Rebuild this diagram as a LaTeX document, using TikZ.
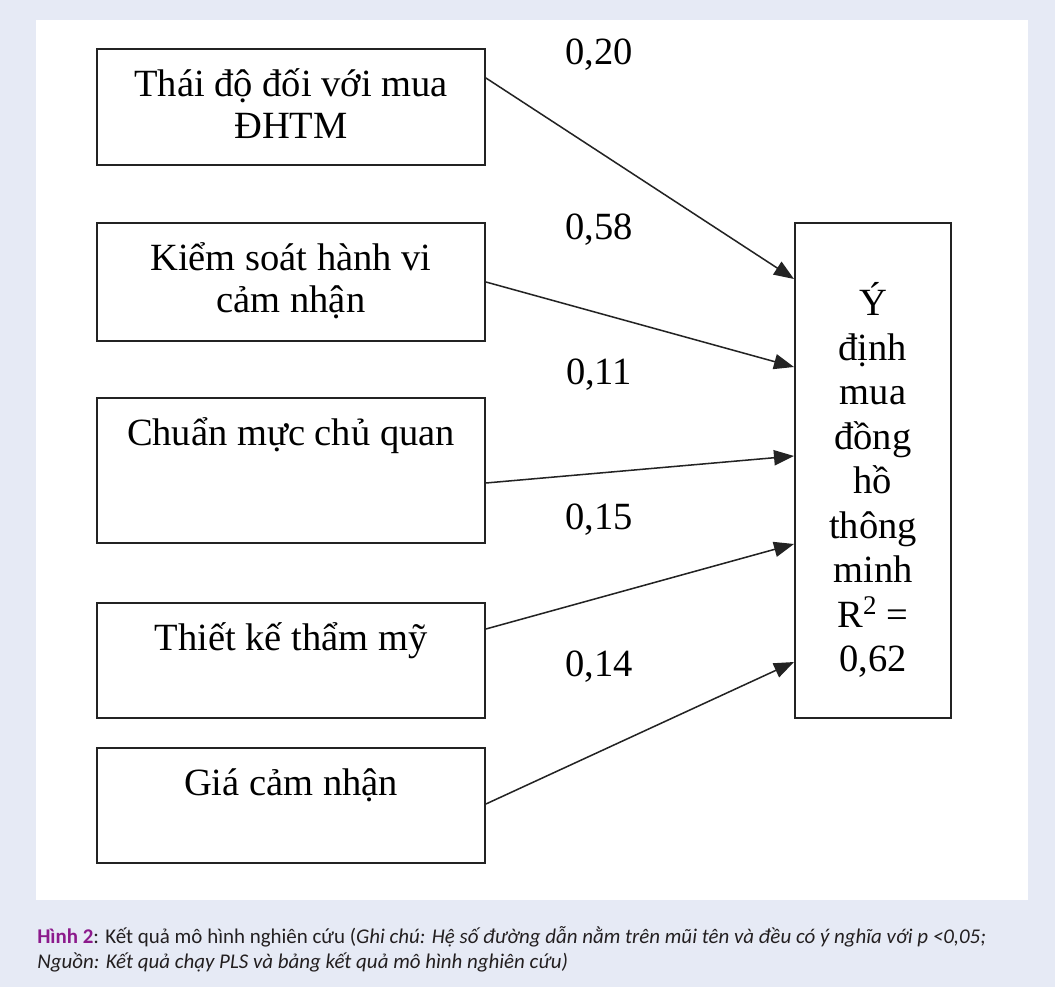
\documentclass[tikz,border=0pt]{standalone}
\usepackage{fontspec}
\setmainfont{Liberation Serif}
\newfontfamily\capfont{Carlito}
\usetikzlibrary{arrows.meta}

\definecolor{pagebg}{RGB}{230,234,245}
\definecolor{boxline}{RGB}{35,35,35}
\definecolor{figpurple}{RGB}{140,26,140}
\definecolor{captext}{RGB}{35,31,32}

% box text: height, width, strut to first baseline, text
\newcommand{\boxtext}[4]{\parbox[c][#1][t]{#2}{\centering\rule{0pt}{#3}#4}}

\tikzset{factor/.style={draw=boxline,line width=0.048cm,inner sep=0pt,anchor=north west,font=\fontsize{27.4pt}{29.9pt}\selectfont},
outcome/.style={draw=boxline,line width=0.048cm,inner sep=0pt,anchor=north west,font=\fontsize{27.4pt}{31.65pt}\selectfont},
weight/.style={font=\fontsize{27.4pt}{29.9pt}\selectfont,anchor=base,inner sep=0pt},
path coef/.style={draw=boxline,line width=0.038cm,-{Triangle[length=0.5cm,width=0.38cm]}},
caption/.style={font=\capfont\fontsize{14.9pt}{17.8pt}\selectfont,text=captext,anchor=north west,align=left,inner sep=0pt}}

\begin{document}
\begin{tikzpicture}
%% background and panel
\fill [pagebg] (0.000,0.000) rectangle (26.375,24.675);
\fill [white] (0.900,2.175) rectangle (25.700,24.175);

%% factor boxes
\node [factor] (t1) at (2.400,23.475) {\boxtext{2.900cm}{9.7cm}{1.2cm}{Thái độ đối với mua\\ĐHTM}};
\node [factor] (t2) at (2.400,19.125) {\boxtext{2.950cm}{9.7cm}{1.2cm}{Kiểm soát hành vi\\cảm nhận}};
\node [factor] (t3) at (2.400,14.750) {\boxtext{3.625cm}{9.7cm}{1.2cm}{Chuẩn mực chủ quan}};
\node [factor] (t4) at (2.400,9.625) {\boxtext{2.875cm}{9.7cm}{1.2cm}{Thiết kế thẩm mỹ}};
\node [factor] (t5) at (2.400,6.000) {\boxtext{2.875cm}{9.7cm}{1.2cm}{Giá cảm nhận}};

%% outcome box
\node [outcome] (ydm) at (19.850,19.125) {\boxtext{12.375cm}{3.9cm}{2.325cm}{Ý\\định\\mua\\đồng\\hồ\\thông\\minh\\R\textsuperscript{2} =\\0,62}};

%% arrow ends
\coordinate (s1) at ([yshift=-0.750cm]t1.north east);
\coordinate (s2) at ([yshift=-1.500cm]t2.north east);
\coordinate (s3) at ([yshift=-2.150cm]t3.north east);
\coordinate (s4) at ([yshift=-0.675cm]t4.north east);
\coordinate (s5) at ([yshift=-1.425cm]t5.north east);
\coordinate (e1) at ([yshift=-1.425cm]ydm.north west);
\coordinate (e2) at ([yshift=-3.625cm]ydm.north west);
\coordinate (e3) at ([yshift=-5.850cm]ydm.north west);
\coordinate (e4) at ([yshift=-8.050cm]ydm.north west);
\coordinate (e5) at ([yshift=-11.000cm]ydm.north west);

%% paths
\draw [path coef] (s1) -- (e1);
\draw [path coef] (s2) -- (e2);
\draw [path coef] (s3) -- (e3);
\draw [path coef] (s4) -- (e4);
\draw [path coef] (s5) -- (e5);

%% path coefficients
\node [weight] (w1) at (14.975,23.050) {0,20};
\node [weight] (w2) at (14.975,18.675) {0,58};
\node [weight] (w3) at (14.975,15.050) {0,11};
\node [weight] (w4) at (14.975,11.425) {0,15};
\node [weight] (w5) at (14.975,7.750) {0,14};

%% caption
\node [caption] (cap) at (0.925,1.600) {\rule{0pt}{0.5cm}{\bfseries\color{figpurple}Hình 2}: Kết quả mô hình nghiên cứu (\textit{Ghi chú: Hệ số đường dẫn nằm trên mũi tên và đều có ý nghĩa với p <0,05;}\\\textit{Nguồn: Kết quả chạy PLS và bảng kết quả mô hình nghiên cứu)}};

\end{tikzpicture}
\end{document}
